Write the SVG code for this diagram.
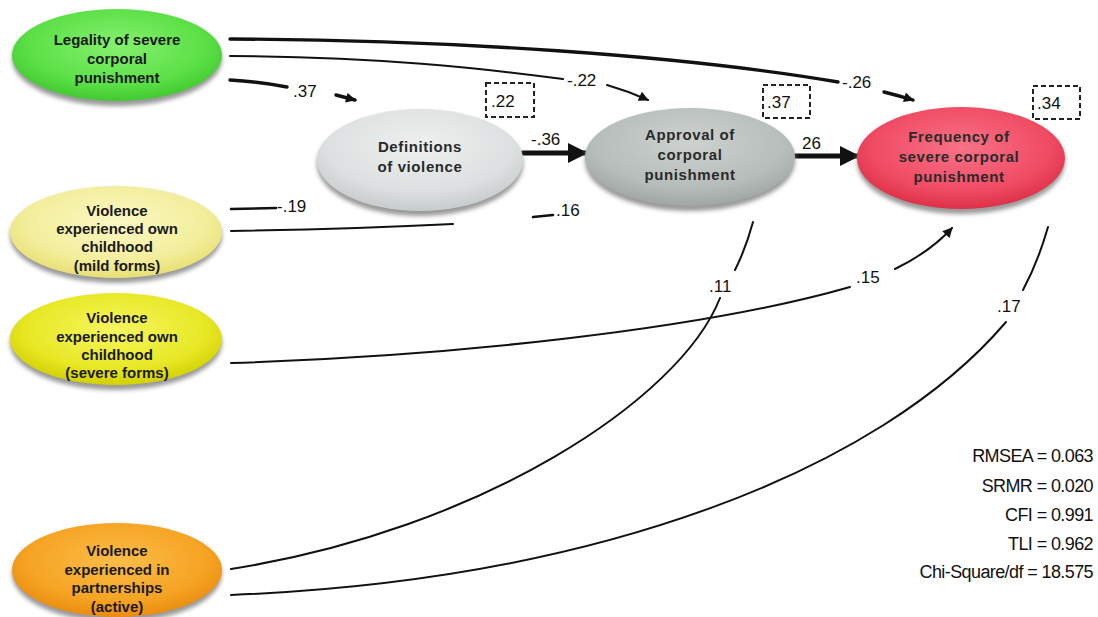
<svg xmlns="http://www.w3.org/2000/svg" width="1098" height="617" viewBox="0 0 1098 617">
<defs>
<style>
.node text{font-family:"Liberation Sans",Arial,sans-serif;font-weight:bold;font-size:15px;fill:#1a1a1a;text-anchor:middle}
.mid text{letter-spacing:0.6px;fill:#2a2a2a}
.shadow{fill:#9a9a9a;filter:url(#blur)}
.c{fill:none;stroke:#111;stroke-linecap:round}
.thin{stroke-width:2}
.med{stroke-width:2.6}
.thick{stroke-width:3.4}
.bold{stroke-width:5}
.lbl{font-family:"Liberation Sans",Arial,sans-serif;font-size:17px;fill:#111}
.box{fill:none;stroke:#222;stroke-width:2;stroke-dasharray:5 3}
.fit{font-family:"Liberation Sans",Arial,sans-serif;font-size:18px;fill:#111;text-anchor:end;letter-spacing:-0.6px}
</style>
<filter id="blur" x="-20%" y="-20%" width="140%" height="140%"><feGaussianBlur stdDeviation="2"/></filter>
<marker id="bigArrow" viewBox="0 0 10 10" refX="9" refY="5" markerUnits="userSpaceOnUse" markerWidth="20" markerHeight="20" orient="auto"><path d="M0,0 L10,5 L0,10 z" fill="#111"/></marker>
<marker id="smallArrow" viewBox="0 0 10 10" refX="9" refY="5" markerUnits="userSpaceOnUse" markerWidth="11" markerHeight="10" orient="auto"><path d="M0,0 L10,5 L0,10 z" fill="#111"/></marker>
<radialGradient id="gGreen" cx="50%" cy="40%" r="60%"><stop offset="0" stop-color="#86f070"/><stop offset="0.7" stop-color="#5ce046"/><stop offset="1" stop-color="#44c832"/></radialGradient>
<radialGradient id="gLight" cx="50%" cy="35%" r="65%"><stop offset="0" stop-color="#eef0f0"/><stop offset="0.7" stop-color="#dde0e0"/><stop offset="1" stop-color="#c6cbcb"/></radialGradient>
<radialGradient id="gGray" cx="50%" cy="35%" r="65%"><stop offset="0" stop-color="#cdd2d0"/><stop offset="0.7" stop-color="#b7bdbb"/><stop offset="1" stop-color="#9fa6a4"/></radialGradient>
<radialGradient id="gRed" cx="50%" cy="40%" r="60%"><stop offset="0" stop-color="#f87288"/><stop offset="0.7" stop-color="#f04c64"/><stop offset="1" stop-color="#dc3048"/></radialGradient>
<radialGradient id="gPale" cx="50%" cy="40%" r="60%"><stop offset="0" stop-color="#fbf8c4"/><stop offset="0.7" stop-color="#f3ee9c"/><stop offset="1" stop-color="#e8df74"/></radialGradient>
<radialGradient id="gYellow" cx="50%" cy="40%" r="60%"><stop offset="0" stop-color="#f6f660"/><stop offset="0.7" stop-color="#e8e826"/><stop offset="1" stop-color="#d2d000"/></radialGradient>
<radialGradient id="gOrange" cx="50%" cy="40%" r="60%"><stop offset="0" stop-color="#fbbd48"/><stop offset="0.7" stop-color="#f6a424"/><stop offset="1" stop-color="#ea8c10"/></radialGradient>
</defs>
<rect width="1098" height="617" fill="#ffffff"/>

<g id="connectors">
  <path class="c thick" d="M230,39 C450,40 680,55 838,82"/>
  <path class="c thick" d="M884,92 Q900,96 913,100" marker-end="url(#smallArrow)"/>
  <text class="lbl" x="842" y="88">-.26</text>
  <path class="c thin" d="M230,56 C380,57 480,68 563,79"/>
  <path class="c thin" d="M607,85 Q628,91 648,100" marker-end="url(#smallArrow)"/>
  <text class="lbl" x="567" y="86">-.22</text>
  <path class="c thick" d="M230,80 Q262,82 287,87"/>
  <path class="c thick" d="M336,95 L355,100" marker-end="url(#smallArrow)"/>
  <text class="lbl" x="293" y="97">.37</text>
  <path class="c bold" d="M523,153 L586,153" marker-end="url(#bigArrow)"/>
  <text class="lbl" x="531" y="145">-.36</text>
  <path class="c bold" d="M795,156 L858,156" marker-end="url(#bigArrow)"/>
  <text class="lbl" x="802" y="149">26</text>
  <path class="c med" d="M231,209 L276,208"/>
  <text class="lbl" x="277" y="212">-.19</text>
  <path class="c thin" d="M231,231 Q350,229 453,224"/>
  <path class="c med" d="M533,217 L553,215"/>
  <text class="lbl" x="556" y="216">.16</text>
  <path class="c thin" d="M231,363 C450,356 700,330 850,287"/>
  <path class="c thin" d="M895,269 Q930,252 952,228" marker-end="url(#smallArrow)"/>
  <text class="lbl" x="856" y="283">.15</text>
  <path class="c thin" d="M753,222 Q746,248 735,270"/>
  <path class="c thin" d="M720,298 C680,400 480,530 231,569"/>
  <text class="lbl" x="709" y="292">.11</text>
  <path class="c thin" d="M1048,227 Q1038,262 1023,290"/>
  <path class="c thin" d="M1006,322 C880,470 600,580 231,595"/>
  <text class="lbl" x="997" y="312">.17</text>
</g>

<g id="node-legality" class="node">
  <ellipse class="shadow" cx="117" cy="59" rx="105" ry="47"/>
  <ellipse cx="117" cy="55" rx="105" ry="46" fill="url(#gGreen)"/>
  <text x="117" y="45">Legality of severe</text>
  <text x="117" y="64">corporal</text>
  <text x="117" y="83">punishment</text>
</g>

<g id="node-definitions" class="node mid">
  <ellipse class="shadow" cx="420" cy="164" rx="103" ry="52"/>
  <ellipse cx="420" cy="160" rx="103" ry="51" fill="url(#gLight)"/>
  <text x="420" y="152">Definitions</text>
  <text x="420" y="172">of violence</text>
</g>

<g id="node-approval" class="node mid">
  <ellipse class="shadow" cx="690" cy="161" rx="105" ry="50"/>
  <ellipse cx="690" cy="157" rx="105" ry="49" fill="url(#gGray)"/>
  <text x="690" y="140">Approval of</text>
  <text x="690" y="160">corporal</text>
  <text x="690" y="180">punishment</text>
</g>

<g id="node-frequency" class="node mid">
  <ellipse class="shadow" cx="961" cy="162" rx="104" ry="52"/>
  <ellipse cx="961" cy="158" rx="104" ry="51" fill="url(#gRed)"/>
  <text x="959" y="142">Frequency of</text>
  <text x="959" y="162">severe corporal</text>
  <text x="959" y="182">punishment</text>
</g>

<g id="node-mild" class="node">
  <ellipse class="shadow" cx="116" cy="236" rx="106" ry="47"/>
  <ellipse cx="116" cy="232" rx="106" ry="46" fill="url(#gPale)"/>
  <text x="117" y="216">Violence</text>
  <text x="117" y="234">experienced own</text>
  <text x="117" y="252">childhood</text>
  <text x="117" y="271">(mild forms)</text>
</g>

<g id="node-severe" class="node">
  <ellipse class="shadow" cx="116" cy="343" rx="106" ry="47"/>
  <ellipse cx="116" cy="339" rx="106" ry="46" fill="url(#gYellow)"/>
  <text x="117" y="323">Violence</text>
  <text x="117" y="342">experienced own</text>
  <text x="117" y="360">childhood</text>
  <text x="117" y="378">(severe forms)</text>
</g>

<g id="node-partnerships" class="node">
  <ellipse class="shadow" cx="117" cy="574" rx="105" ry="48"/>
  <ellipse cx="117" cy="570" rx="105" ry="47" fill="url(#gOrange)"/>
  <text x="117" y="556">Violence</text>
  <text x="117" y="575">experienced in</text>
  <text x="117" y="593">partnerships</text>
  <text x="117" y="612">(active)</text>
</g>

<g id="r2-boxes">
  <rect class="box" x="486" y="83" width="48" height="34"/>
  <text class="lbl" x="491" y="107">.22</text>
  <rect class="box" x="763" y="85" width="47" height="33"/>
  <text class="lbl" x="767" y="108">.37</text>
  <rect class="box" x="1033" y="86" width="47" height="33"/>
  <text class="lbl" x="1037" y="109">.34</text>
</g>

<g id="fit-indices">
  <text class="fit" x="1093" y="462">RMSEA = 0.063</text>
  <text class="fit" x="1093" y="492">SRMR = 0.020</text>
  <text class="fit" x="1093" y="521">CFI = 0.991</text>
  <text class="fit" x="1093" y="550">TLI = 0.962</text>
  <text class="fit" x="1093" y="578">Chi-Square/df = 18.575</text>
</g>
</svg>
